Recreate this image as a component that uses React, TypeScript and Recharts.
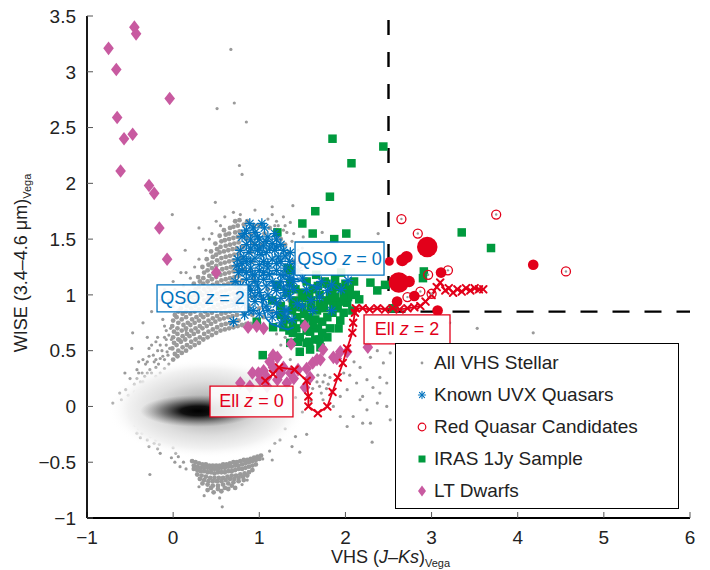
import React from 'react';
import { ScatterChart, Scatter, XAxis, YAxis, ZAxis, ReferenceLine, ReferenceArea, Legend } from 'recharts';

const FONT = '"Liberation Sans", Arial, sans-serif';
const BLUE = '#0072BD';
const RED = '#E2001A';
const GREEN = '#009A3E';
const PINK = '#C85AA0';
const GRAY = '#9a9a9a';
const INK = '#222';

type P = [number, number];

const X_TICKS = [-1, 0, 1, 2, 3, 4, 5, 6];
const Y_TICKS = [-1, -0.5, 0, 0.5, 1, 1.5, 2, 2.5, 3, 3.5];

// colour cuts used in the selection
const CUT_X = 2.5;
const CUT_Y = 0.85;

// All VHS stellar sources, scattered part (sampled by eye)
const vhsStellar: P[] = [
  [0.67, 3.2], [0.51, 2.67], [0.71, 2.72], [0.85, 2.55], [0.77, 2.16], [0.8, 2.08], [0.49, 1.83], [-0.01, 1.72],
  [0.14, 1.4], [0.09, 1.2], [1.15, 1.79], [1.39, 1.8], [1.28, 1.7], [2.38, 1.55], [1.51, 1.52], [1.73, 1.56],
  [0.95, 1.76], [3.21, 0.75], [3.53, 0.7], [4.18, 0.66],
  [-0.7, 0.03], [-0.6, 0.06], [-0.52, 0.1], [-0.45, 0.13], [-0.38, 0.15], [-0.42, 0.25], [-0.3, 0.3], [-0.2, 0.35],
  [-0.35, 0.42], [-0.15, 0.43], [-0.48, 0.52], [-0.07, 0.49], [-0.25, 0.55], [-0.47, 0.66], [0.08, 0.6], [-0.1, 0.62],
  [0.0, 0.9], [0.15, 0.68], [-0.05, 0.95], [0.12, 1.08], [0.2, 1.15], [0.15, 1.2], [0.25, 1.25], [0.3, 1.32],
  [0.38, 1.4], [0.42, 1.5], [0.3, 1.6], [0.55, 1.62], [0.5, 1.66], [0.6, 1.7], [0.7, 1.74], [0.78, 1.72],
  [-0.12, 0.78], [0.02, 1.05], [-0.08, 0.55], [-0.18, 0.5], [-0.28, 0.45], [0.45, 1.55], [0.35, 1.5],
  [-0.3, 0.18], [-0.25, 0.22], [-0.2, 0.27], [-0.15, 0.3], [-0.1, 0.34], [-0.05, 0.38], [-0.22, 0.4], [-0.12, 0.45],
  [-0.02, 0.6], [-0.08, 0.68], [-0.18, 0.62], [-0.32, 0.38], [-0.4, 0.3], [-0.26, 0.12], [-0.15, 0.2], [-0.35, 0.22],
  [-0.45, 0.2], [-0.42, 0.33], [-0.38, 0.22], [-0.36, 0.3], [-0.33, 0.27], [-0.3, 0.4], [-0.27, 0.33], [-0.25, 0.3],
  [-0.23, 0.46], [-0.2, 0.42], [-0.17, 0.38], [-0.15, 0.55], [-0.13, 0.5], [-0.1, 0.42], [-0.08, 0.6], [-0.06, 0.46],
  [-0.04, 0.52], [-0.03, 0.7], [-0.05, 0.64], [-0.1, 0.72], [-0.2, 0.58], [-0.28, 0.52], [-0.4, 0.4], [-0.5, 0.25],
  [-0.55, 0.15], [-0.62, 0.12], [-0.56, 0.3], [-0.35, 0.75], [-0.25, 0.85], [-0.15, 0.95], [-0.3, 0.62], [0.0, 1.12],
  [-0.1, 1.05],
  // among the IRAS cluster
  [1.45, 0.8], [1.55, 0.75], [1.6, 0.6], [1.3, 0.62], [1.25, 0.55], [1.85, 0.72], [1.2, 0.65],
  [1.15, 1.72], [1.22, 1.62], [1.32, 1.56], [1.38, 1.48], [1.45, 1.4], [1.28, 1.58], [1.36, 1.65], [1.18, 1.62],
  [1.5, 1.42], [1.48, 1.32], [1.2, 1.66], [1.3, 1.62], [1.4, 1.55], [1.1, 1.68], [1.42, 1.2], [1.45, 1.0],
  // red side, below the cut
  [1.67, 0.22], [1.7, 0.18], [1.74, 0.22], [1.78, 0.16], [1.72, 0.12], [1.8, 0.2], [1.84, 0.14], [1.68, 0.28],
  [1.76, 0.28], [1.62, 0.16], [1.82, 0.26], [1.36, 0.42], [1.76, 0.53], [2.05, 0.28], [2.13, 0.21], [2.25, 0.24],
  [2.32, 0.17], [2.4, 0.26], [2.48, 0.21], [2.17, 0.06], [2.37, 0.03], [2.25, -0.03], [2.48, 0.0], [2.09, -0.09],
  [1.86, 0.0], [1.94, -0.09], [2.02, -0.18], [2.29, -0.15], [1.74, 0.06], [1.94, 0.09], [2.02, 0.15], [2.2, 0.09],
  [2.4, 0.12], [2.44, 0.39], [2.52, 0.48], [2.17, 0.35], [2.29, 0.44], [2.37, 0.5], [2.2, -0.15], [2.31, -0.32],
  [2.52, -0.12], [2.1, 0.4], [1.98, 0.3], [1.6, 0.05], [1.5, -0.05], [1.42, 0.08],
  [1.18, -0.33], [1.24, -0.3], [1.38, -0.36], [1.42, -0.27], [1.47, -0.41], [1.04, -0.47], [1.15, -0.48], [1.3, -0.2],
  [1.55, -0.25], [1.12, -0.4],
  // lower-left group
  [-0.44, -0.17], [-0.4, -0.2], [-0.36, -0.24], [-0.32, -0.22], [-0.38, -0.28], [-0.3, -0.3], [-0.26, -0.27],
  [-0.22, -0.33], [-0.28, -0.36], [-0.18, -0.38], [-0.2, -0.3], [-0.15, -0.42], [-0.34, -0.14], [-0.27, -0.61],
  [-0.5, -0.05], [0.0, -0.37], [0.03, -0.42], [0.06, -0.45], [0.02, -0.5], [0.08, -0.54], [-0.02, -0.46],
  [0.12, -0.5], [0.15, -0.56], [-0.42, -0.24], [-0.24, -0.22], [-0.16, -0.34],
  [0.36, -0.8], [0.8, -0.7], [0.54, -0.82], [0.57, -0.9], [0.3, -0.72], [0.86, -0.66],
];

// All VHS stellar sources, the two crowded branches
const vhsStellarDense: P[] = [
  // upper branch
  [0.0, 0.42], [0.02, 0.47], [-0.01, 0.52], [0.01, 0.57], [0.0, 0.62], [0.01, 0.67], [-0.01, 0.72], [0.0, 0.77], [0.02, 0.82],
  [0.05, 0.45], [0.06, 0.5], [0.04, 0.55], [0.06, 0.6], [0.05, 0.65], [0.05, 0.7], [0.06, 0.75], [0.04, 0.8], [0.06, 0.85],
  [0.1, 0.48], [0.11, 0.53], [0.09, 0.58], [0.11, 0.63], [0.1, 0.68], [0.12, 0.73], [0.1, 0.78], [0.11, 0.83], [0.09, 0.88], [0.11, 0.93],
  [0.15, 0.5], [0.16, 0.55], [0.14, 0.6], [0.16, 0.65], [0.15, 0.7], [0.17, 0.75], [0.15, 0.8], [0.15, 0.85], [0.16, 0.9],
  [0.14, 0.95], [0.16, 1.0],
  [0.2, 0.53], [0.21, 0.58], [0.19, 0.63], [0.21, 0.68], [0.2, 0.73], [0.22, 0.78], [0.2, 0.83], [0.21, 0.88], [0.2, 0.93],
  [0.21, 0.98], [0.19, 1.03],
  [0.25, 0.55], [0.26, 0.6], [0.24, 0.65], [0.26, 0.7], [0.25, 0.75], [0.27, 0.8], [0.25, 0.85], [0.26, 0.9], [0.24, 0.95],
  [0.25, 1.0], [0.26, 1.05], [0.24, 1.1],
  [0.3, 0.57], [0.31, 0.62], [0.29, 0.67], [0.31, 0.72], [0.3, 0.77], [0.32, 0.82], [0.3, 0.87], [0.31, 0.92],
  [0.29, 0.97], [0.31, 1.02], [0.3, 1.07], [0.31, 1.12], [0.29, 1.16],
  [0.35, 0.6], [0.36, 0.65], [0.34, 0.7], [0.36, 0.75], [0.35, 0.8], [0.37, 0.85], [0.35, 0.9], [0.36, 0.95],
  [0.34, 1.0], [0.36, 1.05], [0.35, 1.1], [0.35, 1.15], [0.36, 1.2], [0.34, 1.25],
  [0.4, 0.62], [0.41, 0.67], [0.39, 0.72], [0.41, 0.77], [0.4, 0.82], [0.42, 0.87], [0.4, 0.92], [0.41, 0.97],
  [0.39, 1.02], [0.41, 1.07], [0.4, 1.12], [0.42, 1.17], [0.4, 1.22], [0.41, 1.27], [0.39, 1.32],
  [0.45, 0.64], [0.46, 0.69], [0.44, 0.74], [0.46, 0.79], [0.45, 0.84], [0.47, 0.89], [0.45, 0.94], [0.46, 0.99],
  [0.44, 1.04], [0.46, 1.09], [0.45, 1.14], [0.47, 1.19], [0.45, 1.24], [0.45, 1.29], [0.46, 1.34], [0.44, 1.39],
  [0.5, 0.66], [0.51, 0.71], [0.49, 0.76], [0.51, 0.81], [0.5, 0.86], [0.52, 0.91], [0.5, 0.96], [0.51, 1.01],
  [0.49, 1.06], [0.51, 1.11], [0.5, 1.16], [0.52, 1.21], [0.5, 1.26], [0.51, 1.31], [0.5, 1.36], [0.51, 1.41], [0.49, 1.46],
  [0.55, 0.68], [0.56, 0.73], [0.54, 0.78], [0.56, 0.83], [0.55, 0.88], [0.57, 0.93], [0.55, 0.98], [0.56, 1.03],
  [0.54, 1.08], [0.56, 1.13], [0.55, 1.18], [0.57, 1.23], [0.55, 1.28], [0.56, 1.33], [0.54, 1.38], [0.55, 1.43],
  [0.56, 1.48], [0.54, 1.53],
  [0.6, 0.69], [0.61, 0.74], [0.59, 0.79], [0.61, 0.84], [0.6, 0.89], [0.62, 0.94], [0.6, 0.99], [0.61, 1.04],
  [0.59, 1.09], [0.61, 1.14], [0.6, 1.19], [0.62, 1.24], [0.6, 1.29], [0.61, 1.34], [0.59, 1.39], [0.61, 1.44],
  [0.6, 1.49], [0.61, 1.54], [0.59, 1.58],
  [0.65, 0.7], [0.66, 0.75], [0.64, 0.8], [0.66, 0.85], [0.65, 0.9], [0.67, 0.95], [0.65, 1.0], [0.66, 1.05],
  [0.64, 1.1], [0.66, 1.15], [0.65, 1.2], [0.67, 1.25], [0.65, 1.3], [0.66, 1.35], [0.64, 1.4], [0.66, 1.45],
  [0.65, 1.5], [0.65, 1.55], [0.66, 1.6],
  [0.7, 0.71], [0.71, 0.76], [0.69, 0.81], [0.71, 0.86], [0.7, 0.91], [0.72, 0.96], [0.7, 1.01], [0.71, 1.06],
  [0.69, 1.11], [0.71, 1.16], [0.7, 1.21], [0.72, 1.26], [0.7, 1.31], [0.71, 1.36], [0.69, 1.41], [0.71, 1.46],
  [0.7, 1.51], [0.72, 1.56], [0.7, 1.61], [0.72, 1.66],
  [0.75, 0.72], [0.76, 0.77], [0.74, 0.82], [0.76, 0.87], [0.75, 0.92], [0.77, 0.97], [0.75, 1.02], [0.76, 1.07],
  [0.74, 1.12], [0.76, 1.17], [0.75, 1.22], [0.77, 1.27], [0.75, 1.32], [0.76, 1.37], [0.74, 1.42], [0.76, 1.47],
  [0.75, 1.52], [0.77, 1.57], [0.75, 1.62], [0.77, 1.67],
  [0.8, 0.73], [0.82, 0.83], [0.8, 0.93], [0.81, 1.03], [0.8, 1.13], [0.82, 1.23], [0.8, 1.33], [0.81, 1.43],
  [0.8, 1.53], [0.82, 1.63], [0.85, 0.74], [0.86, 0.88], [0.85, 1.5], [0.86, 1.66],
  [0.9, 0.74], [0.92, 0.82], [0.88, 0.9], [0.91, 0.98], [0.89, 1.06], [0.93, 1.14], [0.9, 1.22], [0.92, 1.3],
  [0.9, 1.38], [0.93, 1.46], [0.9, 1.54], [0.94, 1.62], [1.0, 0.75], [1.05, 0.8], [1.0, 0.88], [1.03, 0.97],
  [1.1, 1.05], [1.02, 1.45], [1.06, 1.55], [1.12, 1.6], [1.2, 1.58], [1.25, 1.5], [1.3, 1.45], [1.35, 1.38],
  [1.4, 1.3], [1.38, 1.1], [1.15, 0.85], [1.25, 0.92], [1.35, 0.95], [1.0, 1.62],
  // lower branch
  [0.22, -0.49], [0.26, -0.5], [0.3, -0.51], [0.34, -0.52], [0.38, -0.52], [0.42, -0.53], [0.46, -0.53], [0.5, -0.53],
  [0.54, -0.53], [0.58, -0.52], [0.62, -0.52], [0.66, -0.51], [0.7, -0.5], [0.74, -0.5], [0.78, -0.49], [0.82, -0.48],
  [0.86, -0.48], [0.9, -0.47], [0.94, -0.46], [0.98, -0.45], [1.02, -0.44],
  [0.24, -0.53], [0.28, -0.54], [0.32, -0.55], [0.36, -0.55], [0.4, -0.55], [0.44, -0.56], [0.48, -0.56], [0.52, -0.56],
  [0.56, -0.55], [0.6, -0.55], [0.64, -0.54], [0.68, -0.54], [0.72, -0.53], [0.76, -0.53], [0.8, -0.52], [0.84, -0.51],
  [0.88, -0.5], [0.92, -0.49], [0.96, -0.48], [1.0, -0.47],
  [0.24, -0.56], [0.28, -0.57], [0.32, -0.58], [0.36, -0.58], [0.4, -0.59], [0.44, -0.59], [0.48, -0.6], [0.52, -0.59],
  [0.56, -0.59], [0.6, -0.59], [0.64, -0.58], [0.68, -0.58], [0.72, -0.57], [0.76, -0.56], [0.8, -0.56], [0.84, -0.55],
  [0.88, -0.54], [0.92, -0.53], [0.96, -0.52],
  [0.28, -0.61], [0.33, -0.62], [0.38, -0.63], [0.43, -0.64], [0.48, -0.64], [0.53, -0.64], [0.58, -0.64], [0.63, -0.63],
  [0.68, -0.62], [0.73, -0.62], [0.78, -0.61], [0.83, -0.6], [0.88, -0.59], [0.92, -0.57],
  [0.31, -0.65], [0.36, -0.66], [0.41, -0.67], [0.46, -0.67], [0.51, -0.67], [0.56, -0.67], [0.61, -0.66], [0.66, -0.65],
  [0.71, -0.65], [0.76, -0.64], [0.81, -0.63], [0.86, -0.62],
  [0.34, -0.69], [0.4, -0.7], [0.46, -0.71], [0.52, -0.71], [0.58, -0.7], [0.64, -0.69], [0.7, -0.68], [0.76, -0.67],
  [0.82, -0.66], [0.4, -0.75], [0.47, -0.77], [0.56, -0.76], [0.64, -0.74], [0.72, -0.73],
  [0.44, -0.73], [0.52, -0.74], [0.6, -0.73], [0.68, -0.71],
];

// peaks of the stellar density image
const densityPeaks = [
  { x: 0.4, y: -0.02, layer: 'halo' },
  { x: 0.29, y: -0.04, layer: 'core' },
];

const uvxQuasars: P[] = [
  [0.89, 1.64], [1.03, 1.64], [0.85, 1.58], [1.06, 1.6], [0.95, 1.56],
  [0.8, 1.52], [0.9, 1.5], [1.0, 1.5], [1.1, 1.52], [1.2, 1.5], [0.85, 1.45], [0.95, 1.45], [1.05, 1.44], [1.15, 1.46], [1.25, 1.45],
  [0.78, 1.4], [0.88, 1.38], [0.98, 1.4], [1.08, 1.38], [1.18, 1.4], [1.28, 1.4], [1.36, 1.38],
  [0.75, 1.32], [0.85, 1.3], [0.95, 1.33], [1.05, 1.3], [1.15, 1.32], [1.25, 1.3], [1.35, 1.3], [1.42, 1.28],
  [0.8, 1.22], [0.9, 1.24], [1.0, 1.22], [1.1, 1.24], [1.2, 1.22], [1.3, 1.24], [1.4, 1.2],
  [0.72, 1.12], [0.85, 1.14], [0.95, 1.12], [1.05, 1.14], [1.15, 1.12], [1.25, 1.12], [1.35, 1.14],
  [0.8, 1.02], [0.9, 1.04], [1.0, 1.02], [1.1, 1.0], [1.2, 1.04], [1.3, 1.02], [1.4, 1.05],
  [0.83, 0.92], [0.95, 0.94], [1.08, 0.9], [1.2, 0.92], [1.3, 0.86], [0.93, 0.86], [1.15, 0.8], [1.38, 0.78],
  [1.25, 0.75], [0.7, 0.76], [0.83, 0.82], [0.72, 0.92], [1.32, 0.86],
  [1.67, 1.06], [1.79, 1.04], [1.84, 1.09], [2.03, 1.13], [1.84, 0.86], [1.55, 1.05], [1.6, 0.95], [1.7, 0.98],
  [1.5, 1.15], [1.95, 1.05], [1.72, 1.12], [1.62, 0.86], [1.5, 0.9],
  [0.92, 1.18], [1.12, 1.18], [1.02, 1.36], [1.22, 1.34], [0.82, 1.34], [1.12, 1.42],
  [0.83, 1.55], [0.93, 1.6], [0.98, 1.52], [1.08, 1.48], [1.18, 1.55], [0.9, 1.42], [1.0, 1.42], [1.2, 1.43],
  [1.3, 1.35], [0.8, 1.28], [0.9, 1.3], [1.0, 1.27], [1.1, 1.28], [1.2, 1.28], [1.3, 1.18], [0.85, 1.2],
  [0.95, 1.18], [1.05, 1.2], [1.25, 1.18], [1.35, 1.08], [0.78, 1.08], [0.88, 1.08], [0.98, 1.08], [1.08, 1.08],
  [1.18, 1.08], [1.28, 1.07], [0.85, 0.98], [0.95, 0.99], [1.05, 0.96], [1.15, 0.96], [1.25, 0.97], [1.35, 0.98],
  [0.76, 1.2], [0.74, 1.26], [1.4, 1.12], [1.45, 1.22], [1.44, 0.92], [0.76, 0.98], [0.88, 0.86], [1.0, 0.83],
  [1.1, 0.86], [1.2, 0.84], [1.3, 0.8],
];

const redCandidates: P[] = [
  [2.65, 1.68], [3.75, 1.72], [2.84, 1.55], [3.19, 1.22], [4.56, 1.21], [2.87, 1.03], [2.72, 0.98], [3.0, 1.01], [2.96, 1.18],
];

// [x, y, relative weight]
const redCandidatesFilled: [number, number, number][] = [
  [2.95, 1.43, 3], [2.62, 1.11, 3], [2.74, 1.12, 1.3], [2.51, 1.3, 1], [2.66, 1.31, 1.4], [2.71, 1.34, 1.4],
  [3.11, 1.2, 1.2], [4.18, 1.27, 1.2], [2.8, 0.99, 1.2], [2.6, 0.94, 1.2], [3.07, 0.86, 1.2],
];

const iras1Jy: P[] = [
  [1.85, 2.4], [2.07, 2.18], [2.44, 2.33], [1.82, 1.88], [1.65, 1.75], [1.5, 1.64], [1.62, 1.55], [2.01, 1.55],
  [1.87, 1.5], [1.21, 1.56], [3.35, 1.56], [3.69, 1.42], [2.91, 1.21], [2.9, 1.15], [2.37, 1.04], [2.46, 1.09],
  [2.29, 1.11], [2.55, 0.88], [1.04, 0.46], [0.97, 0.76],
  [1.33, 1.24], [1.36, 1.22], [1.21, 1.09], [1.36, 1.11], [1.5, 1.02], [1.51, 0.97], [1.76, 1.12], [1.88, 1.14],
  [1.9, 1.07], [1.96, 1.06], [1.82, 1.0], [1.79, 0.95], [1.32, 1.02], [1.39, 0.93], [1.38, 0.86], [1.5, 0.89],
  [1.44, 0.8], [1.57, 0.8], [1.67, 0.86], [1.79, 0.8], [1.91, 0.88], [2.02, 0.93], [2.03, 0.98], [2.08, 0.86],
  [1.45, 0.89], [1.86, 0.91], [1.94, 0.94], [1.28, 0.71], [1.39, 0.75], [1.59, 0.67], [1.68, 0.7], [1.79, 0.62],
  [1.47, 0.62], [1.55, 0.57], [1.65, 0.6], [1.47, 0.49], [1.59, 0.51], [1.71, 0.53], [1.36, 0.57], [1.39, 0.66],
  [1.16, 0.71], [1.94, 0.77], [1.6, 0.95], [1.7, 1.0], [1.62, 1.05], [1.55, 1.12], [1.7, 0.92], [1.85, 1.05],
  [1.98, 1.0], [1.52, 0.74], [1.62, 0.74], [1.73, 0.76], [1.85, 0.84], [1.43, 0.7], [1.52, 0.83], [1.6, 0.88],
  [1.98, 0.84], [2.05, 1.05], [1.3, 0.78], [1.73, 0.66], [1.82, 0.7], [1.25, 0.9], [1.15, 0.95], [1.42, 1.05],
  [1.66, 1.18], [1.95, 1.2], [2.1, 1.12], [2.16, 0.96],
  [1.42, 0.95], [1.58, 1.0], [1.68, 1.08], [1.78, 1.1], [1.88, 0.98], [1.75, 0.88], [1.65, 0.78], [1.55, 0.68],
  [1.45, 0.58], [1.35, 0.68], [1.25, 0.82], [2.0, 1.1], [2.12, 1.0], [1.92, 0.7], [1.58, 0.58], [1.7, 0.6],
];

const ltDwarfs: P[] = [
  [-0.75, 3.21], [-0.66, 3.02], [-0.45, 3.4], [-0.43, 3.34], [-0.65, 2.59], [-0.57, 2.4], [-0.47, 2.44], [-0.04, 2.76],
  [-0.61, 2.11], [-0.28, 1.98], [-0.22, 1.91], [-0.16, 1.6], [-0.07, 1.32], [0.5, 1.2],
  [0.87, 0.71], [0.97, 0.72], [1.05, 0.7], [1.37, 0.56], [1.53, 0.72], [1.16, 0.46], [1.21, 0.44], [1.28, 0.35],
  [1.09, 0.26], [1.01, 0.24], [0.78, 0.21], [1.21, 0.24], [1.32, 0.21], [1.36, 0.3], [1.45, 0.33], [1.62, 0.39],
  [1.74, 0.51], [1.71, 0.42], [1.86, 0.44], [1.94, 0.49], [1.53, 0.17], [1.59, 0.26], [1.55, 0.34], [1.09, 0.18],
  [0.89, 0.18], [1.16, 0.35], [0.99, 0.3], [1.9, 0.43], [1.67, 0.42], [2.26, 0.53], [0.92, 0.3], [1.12, 0.4],
  [1.25, 0.3], [1.05, 0.32], [1.4, 0.25], [2.02, 0.49],
];

// model tracks
const qsoTrack: P[] = [
  [1.72, 1.06], [1.6, 1.09], [1.47, 1.13], [1.32, 1.17], [1.15, 1.19], [1.0, 1.17], [0.98, 1.1], [1.02, 1.0],
  [1.04, 0.88], [1.08, 0.79], [1.14, 0.74], [1.24, 0.71], [1.33, 0.69], [1.4, 0.71],
];

const ellTrack: P[] = [
  [1.07, 0.23], [1.16, 0.29], [1.23, 0.35], [1.41, 0.33], [1.55, 0.23], [1.57, 0.09], [1.57, 0.0], [1.68, -0.06],
  [1.79, 0.0], [1.85, 0.13], [1.91, 0.26], [1.97, 0.39], [2.02, 0.52], [2.08, 0.66], [2.09, 0.75], [2.11, 0.84],
  [2.12, 0.88], [2.2, 0.88], [2.28, 0.87], [2.37, 0.88], [2.46, 0.87], [2.55, 0.88], [2.63, 0.87], [2.72, 0.88],
  [2.8, 0.89], [2.87, 0.9], [2.93, 0.94], [3.0, 1.0], [3.06, 1.07], [3.1, 1.11], [3.16, 1.04], [3.2, 1.06],
  [3.25, 1.02], [3.3, 1.05], [3.35, 1.03], [3.4, 1.06], [3.45, 1.04], [3.5, 1.06], [3.55, 1.05], [3.6, 1.05],
];

const annotations = [
  { name: 'QSO', z: '0', x1: 1.415, x2: 2.448, y1: 1.178, y2: 1.474, color: BLUE },
  { name: 'QSO', z: '2', x1: -0.187, x2: 0.869, y1: 0.847, y2: 1.089, color: BLUE },
  { name: 'Ell', z: '0', x1: 0.428, x2: 1.391, y1: -0.094, y2: 0.183, color: RED },
  { name: 'Ell', z: '2', x1: 2.216, x2: 3.214, y1: 0.56, y2: 0.82, color: RED },
];

const legendItems = [
  { label: 'All VHS Stellar', kind: 'dot' },
  { label: 'Known UVX Quasars', kind: 'star' },
  { label: 'Red Quasar Candidates', kind: 'ring' },
  { label: 'IRAS 1Jy Sample', kind: 'square' },
  { label: 'LT Dwarfs', kind: 'diamond' },
];

const pts = (a: P[]) => a.map(([x, y]) => ({ x, y }));
const fmt = (v: number) => (v < 0 ? `\u2212${Math.abs(v)}` : `${v}`);

// marker glyphs
const starGlyph = (cx: number, cy: number, s: number, w = 1.3) => {
  const d = s * 0.707;
  return (
    <g stroke={BLUE} strokeWidth={w} strokeLinecap="round">
      <line x1={cx - s} y1={cy} x2={cx + s} y2={cy} />
      <line x1={cx} y1={cy - s} x2={cx} y2={cy + s} />
      <line x1={cx - d} y1={cy - d} x2={cx + d} y2={cy + d} />
      <line x1={cx - d} y1={cy + d} x2={cx + d} y2={cy - d} />
    </g>
  );
};
const ringGlyph = (cx: number, cy: number, r: number) => (
  <g>
    <circle cx={cx} cy={cy} r={r} fill="#fff" fillOpacity={0} stroke={RED} strokeWidth={1.3} />
    <circle cx={cx} cy={cy} r={1.2} fill={GRAY} />
  </g>
);
const squareGlyph = (cx: number, cy: number, s: number) => (
  <rect x={cx - s / 2} y={cy - s / 2} width={s} height={s} fill={GREEN} />
);
const diamondGlyph = (cx: number, cy: number, w: number, h: number) => (
  <polygon points={`${cx},${cy - h} ${cx + w},${cy} ${cx},${cy + h} ${cx - w},${cy}`} fill={PINK} />
);

const StellarDot = (p: any) => <circle cx={p.cx} cy={p.cy} r={1.6} fill={GRAY} />;
const StellarDense = (p: any) => <circle cx={p.cx} cy={p.cy} r={2.4} fill={GRAY} />;
const UvxShape = (p: any) => starGlyph(p.cx, p.cy, 4.8);
const RingShape = (p: any) => ringGlyph(p.cx, p.cy, 4.5);
const IrasShape = (p: any) => squareGlyph(p.cx, p.cy, 8.5);
const DwarfShape = (p: any) => diamondGlyph(p.cx, p.cy, 5.3, 6.8);
const NoShape = () => <g />;
const XMark = (p: any) => (
  <g stroke={RED} strokeWidth={2} strokeLinecap="round">
    <line x1={p.cx - 3.3} y1={p.cy - 3.3} x2={p.cx + 3.3} y2={p.cy + 3.3} />
    <line x1={p.cx - 3.3} y1={p.cy + 3.3} x2={p.cx + 3.3} y2={p.cy - 3.3} />
  </g>
);

const DensityShape = (p: any) => {
  if (p.payload?.layer === 'halo') {
    return (
      <g>
        <defs>
          <radialGradient id="haloGrad">
            <stop offset="0" stopColor="#9a9a9a" />
            <stop offset="0.3" stopColor="#bfbfbf" />
            <stop offset="0.55" stopColor="#dedede" />
            <stop offset="0.8" stopColor="#f2f2f2" />
            <stop offset="1" stopColor="#ffffff" stopOpacity="0" />
          </radialGradient>
        </defs>
        <ellipse cx={p.cx} cy={p.cy} rx={100} ry={50} fill="url(#haloGrad)" />
      </g>
    );
  }
  return (
    <g>
      <defs>
        <radialGradient id="coreGrad">
          <stop offset="0" stopColor="#000" stopOpacity="1" />
          <stop offset="0.3" stopColor="#080808" stopOpacity="0.95" />
          <stop offset="0.6" stopColor="#333" stopOpacity="0.6" />
          <stop offset="1" stopColor="#666" stopOpacity="0" />
        </radialGradient>
      </defs>
      <ellipse cx={p.cx} cy={p.cy} rx={58} ry={16} fill="url(#coreGrad)" />
    </g>
  );
};

const XLabel = (p: any) => {
  const vb = p.viewBox || { x: 87, y: 518, width: 603, height: 52 };
  return (
    <text x={vb.x + vb.width / 2 + 2} y={vb.y + 45} textAnchor="middle" fontFamily={FONT} fontSize={18} fill={INK}>
      <tspan>VHS (</tspan>
      <tspan fontStyle="italic">J</tspan>
      <tspan>{'\u2013'}</tspan>
      <tspan fontStyle="italic">Ks</tspan>
      <tspan>)</tspan>
      <tspan fontSize={11} dy={4}>Vega</tspan>
    </text>
  );
};

const YLabel = (p: any) => {
  const vb = p.viewBox || { x: 0, y: 16, width: 87, height: 502 };
  const cx = 27;
  const cy = vb.y + vb.height / 2 - 4;
  return (
    <text x={cx} y={cy} transform={`rotate(-90 ${cx} ${cy})`} textAnchor="middle" fontFamily={FONT} fontSize={18} fill={INK}>
      <tspan>WISE (3.4{'\u2013'}4.6 {'\u03bc'}m)</tspan>
      <tspan fontSize={11} dy={4}>Vega</tspan>
    </text>
  );
};

const annLabel = (name: string, z: string, color: string) => (p: any) => {
  const vb = p.viewBox || { x: 0, y: 0, width: 0, height: 0 };
  return (
    <text
      x={vb.x + vb.width / 2}
      y={vb.y + vb.height / 2}
      dominantBaseline="central"
      textAnchor="middle"
      fontFamily={FONT}
      fontSize={18}
      fill={color}
    >
      <tspan>{name} </tspan>
      <tspan fontStyle="italic">z</tspan>
      <tspan> = {z}</tspan>
    </text>
  );
};

const LegendMarker = ({ kind }: { kind: string }) => (
  <svg width={14} height={14} style={{ display: 'block', flex: 'none' }}>
    {kind === 'dot' && <circle cx={7} cy={7} r={1.4} fill={GRAY} />}
    {kind === 'star' && starGlyph(7, 7, 3.6, 1.1)}
    {kind === 'ring' && <circle cx={7} cy={7} r={3.8} fill="none" stroke={RED} strokeWidth={1.2} />}
    {kind === 'square' && squareGlyph(7, 7, 7)}
    {kind === 'diamond' && diamondGlyph(7, 7, 4, 5.5)}
  </svg>
);

const LegendBox = () => (
  <div
    style={{
      width: 284,
      height: 166,
      boxSizing: 'border-box',
      border: '1.8px solid #000',
      background: '#fff',
      paddingTop: 3,
      fontFamily: FONT,
      fontSize: 19,
      color: INK,
    }}
  >
    {legendItems.map((it) => (
      <div key={it.label} style={{ display: 'flex', alignItems: 'center', height: 32, paddingLeft: 19 }}>
        <LegendMarker kind={it.kind} />
        <span style={{ marginLeft: 5, whiteSpace: 'nowrap' }}>{it.label}</span>
      </div>
    ))}
  </div>
);

const tickStyle = { fontSize: 19, fill: INK, fontFamily: FONT };

export default function App() {
  return (
    <div style={{ width: 710, height: 570, background: '#fff' }}>
      <style>{'body{margin:0}'}</style>
      <ScatterChart width={710} height={570} margin={{ top: 16, right: 20, bottom: 0, left: 0 }}>
        <XAxis
          type="number"
          dataKey="x"
          domain={[-1, 6]}
          ticks={X_TICKS}
          interval={0}
          allowDataOverflow
          height={52}
          tickSize={-6}
          tickMargin={19}
          tickLine={{ stroke: '#555' }}
          axisLine={{ stroke: '#000', strokeWidth: 1.8 }}
          tick={tickStyle}
          tickFormatter={fmt}
          label={{ content: XLabel }}
        />
        <XAxis
          xAxisId="top"
          orientation="top"
          type="number"
          domain={[-1, 6]}
          ticks={X_TICKS}
          interval={0}
          allowDataOverflow
          height={0}
          tickSize={-6}
          tick={false}
          tickLine={{ stroke: '#555' }}
          axisLine={{ stroke: '#000', strokeWidth: 1.8 }}
        />
        <YAxis
          type="number"
          dataKey="y"
          domain={[-1, 3.5]}
          ticks={Y_TICKS}
          interval={0}
          allowDataOverflow
          width={87}
          tickSize={-6}
          tickMargin={17}
          tickLine={{ stroke: '#555' }}
          axisLine={{ stroke: '#000', strokeWidth: 1.8 }}
          tick={tickStyle}
          tickFormatter={fmt}
          label={{ content: YLabel }}
        />
        <YAxis
          yAxisId="right"
          orientation="right"
          type="number"
          domain={[-1, 3.5]}
          ticks={Y_TICKS}
          interval={0}
          allowDataOverflow
          width={0}
          tickSize={-6}
          tick={false}
          tickLine={{ stroke: '#555' }}
          axisLine={{ stroke: '#000', strokeWidth: 1.5 }}
        />
        <ZAxis zAxisId="rq" type="number" dataKey="z" domain={[1, 3]} range={[62, 330]} />

        <Scatter name="All VHS Stellar" data={pts(vhsStellar)} shape={StellarDot} isAnimationActive={false} />
        <Scatter name="All VHS Stellar (crowded)" data={pts(vhsStellarDense)} shape={StellarDense} isAnimationActive={false} legendType="none" />
        <Scatter name="density" data={densityPeaks} shape={DensityShape} isAnimationActive={false} legendType="none" />

        <ReferenceLine
          segment={[{ x: CUT_X, y: 3.5 }, { x: CUT_X, y: CUT_Y }]}
          stroke="#000"
          strokeWidth={2.4}
          strokeDasharray="15 17"
          strokeDashoffset={-4}
        />
        <ReferenceLine
          segment={[{ x: CUT_X, y: CUT_Y }, { x: 6, y: CUT_Y }]}
          stroke="#000"
          strokeWidth={2.4}
          strokeDasharray="17 15"
        />

        <Scatter name="IRAS 1Jy Sample" data={pts(iras1Jy)} shape={IrasShape} isAnimationActive={false} />
        <Scatter name="LT Dwarfs" data={pts(ltDwarfs)} shape={DwarfShape} isAnimationActive={false} />
        <Scatter name="Known UVX Quasars" data={pts(uvxQuasars)} shape={UvxShape} isAnimationActive={false} />
        <Scatter
          name="QSO track"
          data={pts(qsoTrack)}
          line={{ stroke: BLUE, strokeWidth: 1.8 }}
          lineType="joint"
          shape={NoShape}
          isAnimationActive={false}
        />
        <Scatter
          name="Ell track"
          data={pts(ellTrack)}
          line={{ stroke: RED, strokeWidth: 1.8 }}
          lineType="joint"
          shape={XMark}
          isAnimationActive={false}
        />
        <Scatter
          name="Red Quasar Candidates (filled)"
          data={redCandidatesFilled.map(([x, y, z]) => ({ x, y, z }))}
          zAxisId="rq"
          shape="circle"
          fill={RED}
          isAnimationActive={false}
        />
        <Scatter name="Red Quasar Candidates" data={pts(redCandidates)} shape={RingShape} isAnimationActive={false} />

        {annotations.map((a) => (
          <ReferenceArea
            key={a.name + a.z}
            x1={a.x1}
            x2={a.x2}
            y1={a.y1}
            y2={a.y2}
            fill="#fff"
            fillOpacity={0.9}
            stroke={a.color}
            strokeWidth={1.3}
            ifOverflow="visible"
            zIndex={700}
            label={{ content: annLabel(a.name, a.z, a.color) }}
          />
        ))}

        <Legend
          content={LegendBox}
          layout="horizontal"
          verticalAlign="middle"
          align="center"
          wrapperStyle={{ position: 'absolute', left: 395, top: 343, width: 284, height: 166 }}
        />
      </ScatterChart>
    </div>
  );
}
